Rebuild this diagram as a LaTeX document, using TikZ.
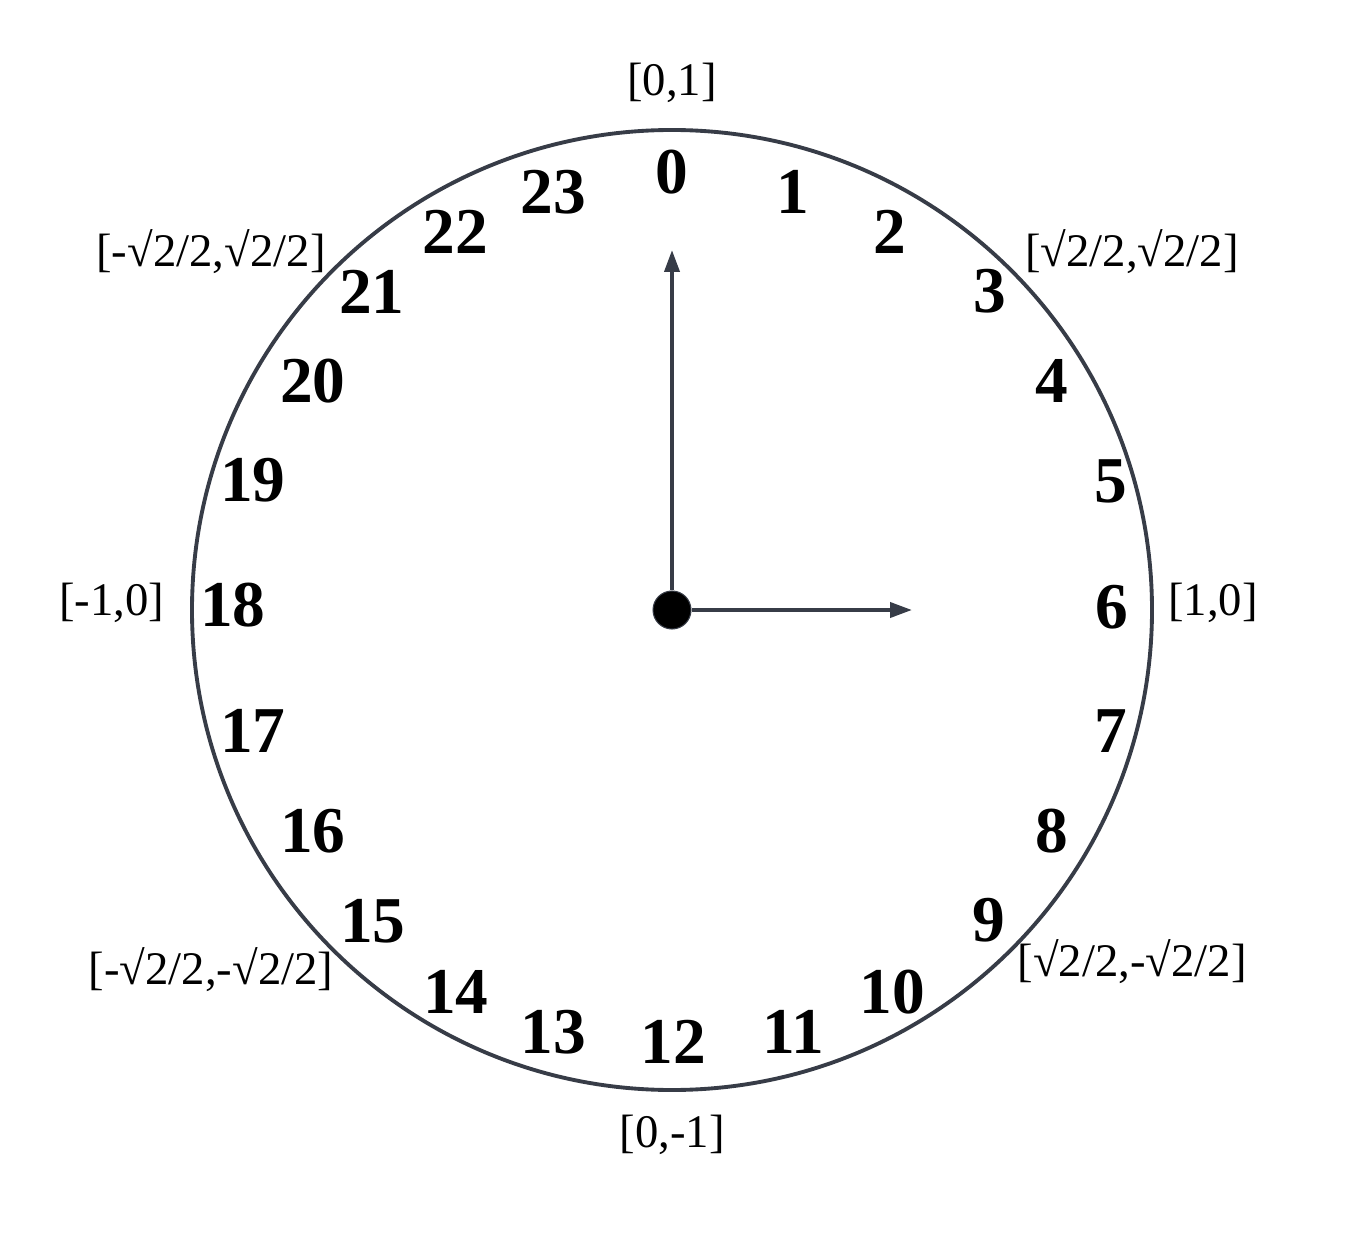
\documentclass[tikz,border=0pt]{standalone}
\usepackage{fontspec}
\setmainfont{Liberation Serif}
\usetikzlibrary{arrows.meta}
\definecolor{rim}{HTML}{373C47}
\tikzset{
    hour/.style={font=\fontsize{18.6}{19}\selectfont\bfseries, inner sep=0pt},
    coord/.style={font=\fontsize{13.3}{14}\selectfont, inner sep=0pt},
    face/.style={draw=rim, line width=1.1pt},
    hand/.style={draw=rim, line width=1.1pt, -{Triangle[length=0.22cm, width=0.15cm]}},
    hub/.style={circle, fill=black, draw=rim, line width=0.3pt, minimum size=0.38cm, inner sep=0pt},
}
\begin{document}
\begin{tikzpicture}
    \useasboundingbox (-6.72,-6.40) rectangle (6.77,6.10);

    % clock face
    \node[face, circle, minimum size=9.6cm, inner sep=0pt] (dial) at (0,0) {};

    % hour numbers
    \foreach \h/\x/\y in {0/0/4.38, 1/1.21/4.18, 2/2.18/3.78, 3/3.18/3.19,
        4/3.80/2.29, 5/4.39/1.29, 6/4.40/0.03, 7/4.39/-1.21, 8/3.80/-2.21,
        9/3.17/-3.10, 10/2.20/-3.82, 11/1.21/-4.22, 12/0.01/-4.32,
        13/-1.19/-4.22, 14/-2.16/-3.82, 15/-2.99/-3.11, 16/-3.59/-2.21,
        17/-4.19/-1.21, 18/-4.39/0.05, 19/-4.19/1.30, 20/-3.59/2.29,
        21/-3.00/3.18, 22/-2.17/3.78, 23/-1.19/4.18}
        \node[hour] (h\h) at (\x,\y) {\h};

    % coordinates on the rim
    \node[coord] (north) at (0,5.27) {[0,1]};
    \node[coord] (south) at (0,-5.25) {[0,-1]};
    \node[coord] (east) at (5.41,0.07) {[1,0]};
    \node[coord] (west) at (-5.60,0.07) {[-1,0]};
    \node[coord] (ne) at (4.60,3.58) {[√2/2,√2/2]};
    \node[coord] (nw) at (-4.61,3.58) {[-√2/2,√2/2]};
    \node[coord] (se) at (4.60,-3.52) {[√2/2,-√2/2]};
    \node[coord] (sw) at (-4.61,-3.60) {[-√2/2,-√2/2]};

    % hands
    \node[hub] (hub) at (0,0) {};
    \coordinate (tipup) at (0,3.60);
    \coordinate (tipright) at (2.40,0);
    \draw[hand] (hub) -- (tipup);
    \draw[hand] (hub) -- (tipright);

\end{tikzpicture}
\end{document}
